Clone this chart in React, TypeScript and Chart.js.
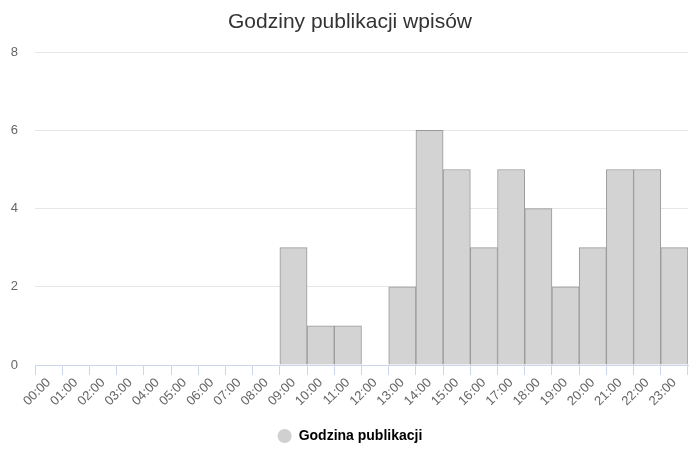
import React, { useEffect, useRef } from "react";
import { Chart, registerables } from "chart.js";

Chart.register(...registerables);

const hours = [
  "00:00", "01:00", "02:00", "03:00", "04:00", "05:00", "06:00", "07:00",
  "08:00", "09:00", "10:00", "11:00", "12:00", "13:00", "14:00", "15:00",
  "16:00", "17:00", "18:00", "19:00", "20:00", "21:00", "22:00", "23:00",
];
const postCounts = [0, 0, 0, 0, 0, 0, 0, 0, 0, 3, 1, 1, 0, 2, 6, 5, 3, 5, 4, 2, 3, 5, 5, 3];
const seriesName = "Godzina publikacji";
const chartTitle = "Godziny publikacji wpisów";

const FONT = "'Liberation Sans', Arial, Helvetica, sans-serif";

export default function App() {
  const ref = useRef<HTMLCanvasElement | null>(null);

  useEffect(() => {
    document.body.style.margin = "0";
    const canvas = ref.current;
    if (!canvas) return;
    const chart = new Chart(canvas, {
      type: "bar",
      data: {
        labels: hours,
        datasets: [
          {
            label: seriesName,
            data: postCounts,
            backgroundColor: "#d3d3d3",
            borderColor: "#999999",
            borderWidth: 1,
            barPercentage: 1,
            categoryPercentage: 1,
          },
        ],
      },
      options: {
        animation: false,
        responsive: false,
        maintainAspectRatio: false,
        layout: { padding: { left: 0, right: 0, top: 0, bottom: 14 } },
        plugins: {
          title: {
            display: true,
            text: chartTitle,
            color: "#333333",
            font: { family: FONT, size: 21, weight: "normal" },
            padding: { top: 10, bottom: 17 },
          },
          legend: {
            display: true,
            position: "bottom",
            labels: {
              usePointStyle: true,
              boxWidth: 16,
              boxHeight: 10,
              padding: 10,
              color: "#333333",
              font: { family: FONT, size: 14, weight: "bold" },
              generateLabels: () => [
                {
                  text: seriesName,
                  fillStyle: "#d0d0d0",
                  strokeStyle: "#d0d0d0",
                  lineWidth: 0,
                  pointStyle: "circle",
                  hidden: false,
                  datasetIndex: 0,
                } as any,
              ],
            },
          },
          tooltip: { enabled: false },
        },
        scales: {
          x: {
            type: "category",
            offset: true,
            grid: {
              offset: true,
              drawOnChartArea: false,
              drawTicks: true,
              tickLength: 10,
              color: "#ccd6eb",
            },
            border: { display: true, color: "#ccd6eb" },
            ticks: {
              color: "#666666",
              font: { family: FONT, size: 13 },
              minRotation: 45,
              maxRotation: 45,
              autoSkip: false,
              padding: 0,
            },
            afterFit: (scale: any) => {
              scale.height = 54;
            },
          },
          y: {
            min: 0,
            max: 8,
            ticks: {
              stepSize: 2,
              color: "#666666",
              font: { family: FONT, size: 13 },
              padding: 17,
            },
            grid: {
              color: "#e6e6e6",
              drawTicks: false,
            },
            border: { display: false },
            afterFit: (scale: any) => {
              scale.width = 35;
            },
          },
          ySpacer: {
            type: "linear",
            position: "right",
            display: true,
            ticks: { display: false },
            grid: { display: false, drawTicks: false },
            border: { display: false },
            afterFit: (scale: any) => {
              scale.width = 12;
            },
          },
        },
      },
    });
    return () => chart.destroy();
  }, []);

  return (
    <div style={{ width: 700, height: 467, background: "#ffffff" }}>
      <canvas ref={ref} width={700} height={467} style={{ display: "block" }} />
    </div>
  );
}
